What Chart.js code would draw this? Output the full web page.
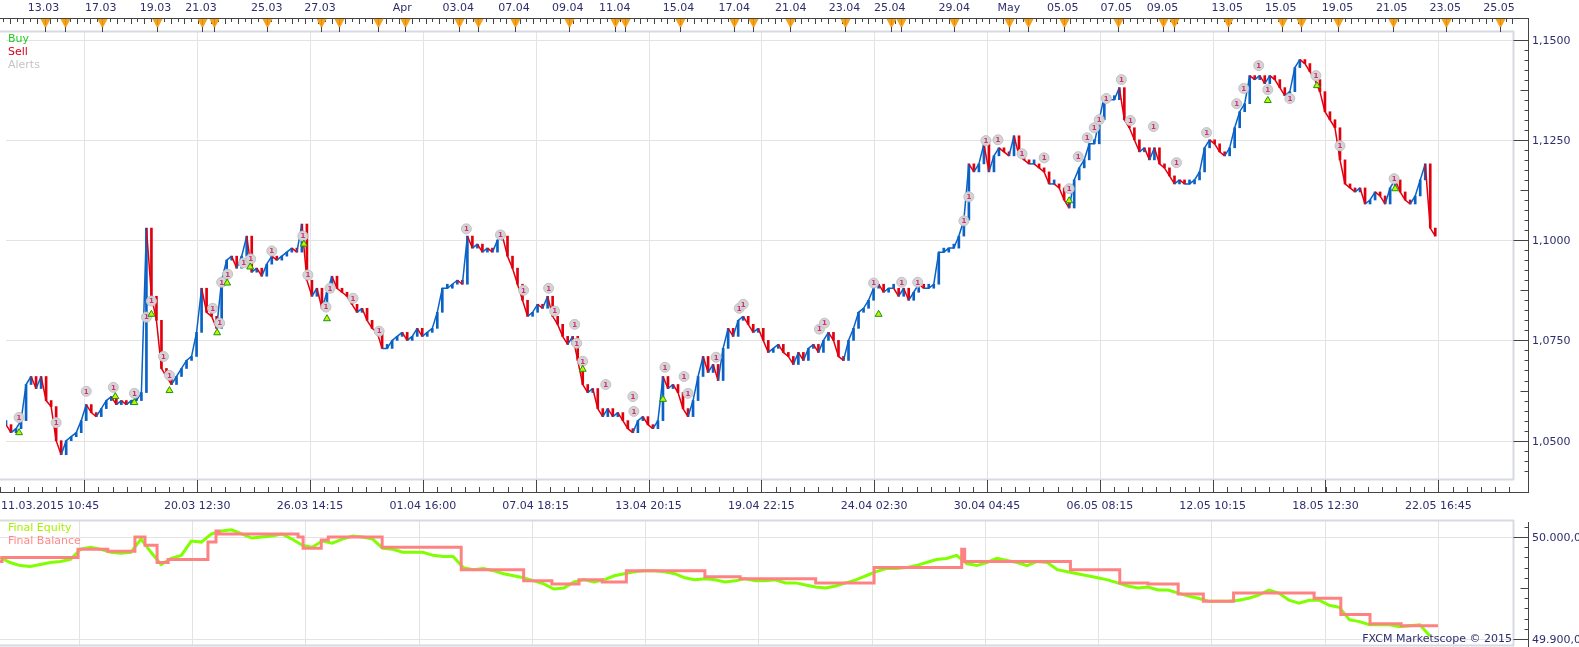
<!DOCTYPE html>
<html><head><meta charset="utf-8">
<script src="https://cdn.jsdelivr.net/npm/chart.js@4.4.1/dist/chart.umd.min.js"></script>
<style>
html,body{margin:0;padding:0;background:#fff;overflow:hidden}
#wrap{position:relative;width:1579px;height:647px;background:#fff}
#c1{position:absolute;left:0;top:0}
#c2{position:absolute;left:0;top:516px}
</style></head><body>
<div id="wrap"><canvas id="c1" width="1579" height="516"></canvas><canvas id="c2" width="1579" height="131"></canvas></div>
<script>
// ---- price closes, one per sample (bar index) ----
const closes = [
1.0540,1.0520,1.0530,1.0550,1.0640,1.0660,1.0630,1.0660,1.0600,1.0585,
1.0500,1.0465,1.0500,1.0510,1.0520,1.0550,1.0590,1.0570,1.0560,1.0580,
1.0600,1.0610,1.0590,1.0600,1.0590,1.0600,1.0600,1.0620,1.1030,1.0860,
1.0800,1.0680,1.0660,1.0640,1.0660,1.0680,1.0700,1.0710,1.0770,1.0880,
1.0820,1.0810,1.0780,1.0900,1.0950,1.0960,1.0930,1.0960,1.1010,1.0920,
1.0930,1.0910,1.0940,1.0960,1.0950,1.0960,1.0970,1.0980,1.0970,1.1040,
1.0900,1.0860,1.0880,1.0830,1.0870,1.0910,1.0880,1.0870,1.0860,1.0840,
1.0820,1.0830,1.0800,1.0780,1.0770,1.0730,1.0730,1.0750,1.0760,1.0770,
1.0750,1.0760,1.0780,1.0760,1.0770,1.0780,1.0820,1.0880,1.0880,1.0890,
1.0900,1.0890,1.1010,1.0980,1.0990,1.0970,1.0980,1.0970,1.1000,1.1010,
1.0960,1.0930,1.0890,1.0850,1.0810,1.0820,1.0840,1.0830,1.0860,1.0810,
1.0790,1.0760,1.0740,1.0760,1.0700,1.0640,1.0620,1.0630,1.0580,1.0560,
1.0580,1.0560,1.0570,1.0550,1.0530,1.0520,1.0550,1.0560,1.0540,1.0530,
1.0550,1.0660,1.0630,1.0640,1.0620,1.0580,1.0560,1.0600,1.0660,1.0710,
1.0670,1.0690,1.0650,1.0730,1.0780,1.0760,1.0800,1.0810,1.0790,1.0770,
1.0780,1.0750,1.0720,1.0730,1.0740,1.0720,1.0710,1.0690,1.0720,1.0700,
1.0730,1.0740,1.0720,1.0750,1.0770,1.0750,1.0710,1.0700,1.0750,1.0780,
1.0820,1.0830,1.0850,1.0880,1.0890,1.0870,1.0880,1.0880,1.0860,1.0880,
1.0850,1.0870,1.0890,1.0880,1.0880,1.0890,1.0970,1.0970,1.0980,1.0980,
1.1010,1.1050,1.1190,1.1170,1.1190,1.1240,1.1170,1.1210,1.1230,1.1220,
1.1210,1.1260,1.1210,1.1200,1.1190,1.1190,1.1180,1.1170,1.1140,1.1140,
1.1130,1.1100,1.1080,1.1150,1.1180,1.1200,1.1240,1.1240,1.1300,1.1360,
1.1350,1.1350,1.1380,1.1300,1.1280,1.1250,1.1220,1.1230,1.1200,1.1230,
1.1190,1.1180,1.1160,1.1140,1.1150,1.1140,1.1140,1.1150,1.1170,1.1230,
1.1250,1.1240,1.1220,1.1210,1.1230,1.1280,1.1320,1.1340,1.1410,1.1400,
1.1410,1.1390,1.1410,1.1400,1.1380,1.1360,1.1370,1.1430,1.1450,1.1440,
1.1420,1.1400,1.1370,1.1320,1.1300,1.1280,1.1200,1.1140,1.1130,1.1120,
1.1130,1.1090,1.1100,1.1120,1.1110,1.1090,1.1130,1.1150,1.1120,1.1100,
1.1090,1.1110,1.1150,1.1190,1.1030,1.1010
];

// ---- alerts (bar index, price) ----
const alertIdx = [2.6,10,16,21.4,25.6,28,29,31.4,32.6,41.2,42.6,43,44.2,47.4,48.8,53,59.2,60.2,63.8,64.6,69.2,74.4,91.8,98.6,103.2,108.2,109.4,113.4,113.8,115,119.6,125,125.2,131.4,135.2,136,141.6,146.2,147,162.2,163.2,173,178.6,181.8,191,192,195.4,197.8,202.6,207,212,213.8,215.6,217,218,219.4,222.4,224.2,228.8,233.4,239.4,245.4,246.8,249.8,251.6,256,261.2,266,276.8];
const alertPrice = [1.0558,1.0545,1.0623,1.0633,1.0618,1.0808,1.0848,1.0710,1.0663,1.0830,1.0793,1.0895,1.0915,1.0943,1.0953,1.0973,1.1010,1.0913,1.0833,1.0880,1.0855,1.0773,1.1028,1.1013,1.0875,1.0880,1.0823,1.0790,1.0743,1.0698,1.0640,1.0610,1.0573,1.0683,1.0660,1.0618,1.0708,1.0830,1.0840,1.0778,1.0793,1.0893,1.0895,1.0895,1.1048,1.1108,1.1248,1.1250,1.1215,1.1205,1.1128,1.1208,1.1255,1.1280,1.1300,1.1353,1.1400,1.1298,1.1283,1.1193,1.1268,1.1340,1.1378,1.1435,1.1375,1.1353,1.1410,1.1235,1.1153];

// ---- buy signals ----
const buyIdx = [2.6,21.8,25.6,29,32.6,42.1,44.1,48.7,59.4,64,115,131,174,212,251.6,261.4,277];
const buyPrice = [1.0520,1.0610,1.0595,1.0815,1.0625,1.0769,1.0893,1.0933,1.0990,1.0804,1.0678,1.0603,1.0815,1.1098,1.1348,1.1385,1.1128];

// ---- top event markers and date labels ----
const eventIdx = [7.7,11.7,19.1,30.2,39.1,41.5,52.0,62.8,66.5,74.1,79.6,90.4,94.1,101.5,112.2,121.5,123.5,134.3,145.2,149.0,156.3,167.2,176.4,178.5,189.1,200.0,203.8,210.9,221.7,230.8,233.0,243.7,254.4,258.2,265.7,276.5,287.2,297.9];
const topLabels = ['13.03','17.03','19.03','21.03','25.03','27.03','Apr','03.04','07.04','09.04','11.04','15.04','17.04','21.04','23.04','25.04','29.04','May','05.05','07.05','09.05','13.05','15.05','19.05','21.05','23.05','25.05'];
const topLabelIdx = [7.5,18.9,29.8,38.9,52.0,62.6,79.0,90.2,101.3,112.0,121.4,134.1,145.2,156.5,167.2,176.2,189.1,200.0,210.7,221.4,230.6,243.5,254.2,265.5,276.3,287.0,297.7];

// ---- bottom time axis ----
const firstTimeLabel = '11.03.2015 10:45';
const timeTickIdx = [15.63,38.13,60.62,83.12,105.62,128.12,150.62,173.12,195.61,218.11,240.61,263.11,285.61];
const timeTickLabels = ['','20.03 12:30','26.03 14:15','01.04 16:00','07.04 18:15','13.04 20:15','19.04 22:15','24.04 02:30','30.04 04:45','06.05 08:15','12.05 10:15','18.05 12:30','22.05 16:45'];

// ---- price axis ----
const priceTicks = [1.05,1.075,1.1,1.125,1.15];
const priceTickLabels = ['1,0500','1,0750','1,1000','1,1250','1,1500'];

// ---- lower panel ----
const equity = [49980,49975,49972,49971,49973,49975,49976,49978,49988,49990,49988,49985,49984,49985,49998,49985,49973,49979,49982,49996,49995,50003,50006,50007,50003,49999,50000,50001,50003,49998,49992,49990,49996,49994,49998,50001,50000,49998,49989,49988,49985,49985,49985,49982,49981,49981,49970,49968,49969,49967,49964,49962,49960,49957,49954,49949,49950,49956,49958,49956,49958,49962,49964,49966,49967,49967,49966,49964,49960,49958,49959,49958,49956,49957,49959,49957,49957,49958,49955,49955,49953,49951,49950,49952,49955,49958,49962,49966,49969,49969,49970,49972,49975,49978,49979,49982,49974,49972,49975,49979,49977,49975,49972,49976,49975,49968,49966,49964,49962,49960,49958,49955,49952,49950,49951,49948,49948,49945,49942,49940,49937,49937,49937,49938,49940,49943,49948,49945,49938,49935,49938,49938,49933,49931,49919,49917,49914,49914,49914,49912,49913,49914,49903];
const equityStep = 2;
const balanceIdx = [0,0.4,15.5,21.4,26.8,28.8,31.2,33.4,41.3,42.9,43.5,59.2,60.2,63.8,65.2,75.9,91.6,104,109.6,115,119.6,124.4,140,147,162,173.6,191,191.6,212.6,222.4,228,234,239,245,261,266.3,272.1,278.3,285.6];
const balanceVal = [49976,49980,49988,49986,50000,49992,49975,49978,49995,50006,50003,50000,49989,49997,50000,49990,49968,49957,49954,49958,49956,49967,49961,49959,49955,49970,49988,49976,49968,49955,49954,49944,49937,49945,49940,49924,49915,49913,49913];
const panelTicks = [49900,50000];
const panelTickLabels = ['49.900,0','50.000,0'];

// ---------------------------------------------------------------
const BLUE='#0a62c6', RED='#e2000e', NAVY='#2e2e6e', GRID='#e3e3e3', FRAME='#d6dae2';
const FONT='11px "DejaVu Sans", Verdana, sans-serif';
const X_MIN=0, X_MAX=300.5;
const AXIS_X=1528.5;

function hline(ctx,x1,x2,y){ctx.beginPath();ctx.moveTo(x1,y);ctx.lineTo(x2,y);ctx.stroke();}
function vline(ctx,x,y1,y2){ctx.beginPath();ctx.moveTo(x,y1);ctx.lineTo(x,y2);ctx.stroke();}

function minorTimeTicks(){
  const step=(timeTickIdx[1]-timeTickIdx[0])/8; const out=[];
  for(let v=timeTickIdx[0]-step*6; v<=X_MAX; v+=step) out.push(v);
  return out;
}

const mainDecor = {
  id:'mainDecor',
  beforeDatasetsDraw(chart){
    const {ctx, chartArea:a, scales:{x,y}} = chart;
    ctx.save();
    ctx.strokeStyle=GRID; ctx.lineWidth=1;
    timeTickIdx.forEach(v=>{const p=Math.round(x.getPixelForValue(v))+0.5; vline(ctx,p,a.top,a.bottom);});
    priceTicks.forEach(v=>{const p=Math.round(y.getPixelForValue(v))+0.5; hline(ctx,a.left,a.right,p);});
    ctx.restore();
  },
  afterDatasetsDraw(chart){
    const {ctx, chartArea:a, scales:{x,y}} = chart;
    ctx.save();
    // alert numbers
    const meta = chart.getDatasetMeta(1);
    ctx.font='bold 7px "DejaVu Sans", sans-serif'; ctx.fillStyle='#d0307a';
    ctx.textAlign='center'; ctx.textBaseline='middle';
    meta.data.forEach(el=>{ ctx.fillText('1', el.x, el.y+0.5); });
    // frame
    ctx.strokeStyle=FRAME; ctx.lineWidth=2;
    hline(ctx,0,a.right+1,a.top-0.5);
    vline(ctx,a.right+0.5,a.top-1,a.bottom+1);
    hline(ctx,0,a.right+1,a.bottom+0.5);
    // legend
    ctx.font=FONT; ctx.textAlign='left'; ctx.textBaseline='middle';
    ctx.fillStyle='#1fcc1f'; ctx.fillText('Buy',8,39);
    ctx.fillStyle='#d8001a'; ctx.fillText('Sell',8,52);
    ctx.fillStyle='#c4c4c4'; ctx.fillText('Alerts',8,65);
    // top strip
    ctx.strokeStyle='#444'; ctx.lineWidth=1;
    hline(ctx,0,AXIS_X,18.5);
    const dayStep=(topLabelIdx[25]-topLabelIdx[24])/8;
    let k=0;
    for(let v=topLabelIdx[24]-dayStep*300; v<=X_MAX+1; v+=dayStep, k++){
      if(v<X_MIN-1) continue;
      const p=Math.round(x.getPixelForValue(v))+0.5;
      if(p>AXIS_X) break;
      vline(ctx,p,18,(k%2===0)?24:22);
    }
    eventIdx.forEach(v=>{
      const p=Math.round(x.getPixelForValue(v))+0.5;
      ctx.fillStyle='#f6a21c';
      ctx.beginPath(); ctx.moveTo(p-5,19); ctx.lineTo(p+5,19); ctx.lineTo(p,28.5); ctx.closePath(); ctx.fill();
      ctx.strokeStyle='#e08a00'; ctx.lineWidth=1; vline(ctx,p,19,25);
      ctx.strokeStyle='#444'; vline(ctx,p,27,32);
    });
    ctx.fillStyle=NAVY; ctx.font=FONT; ctx.textAlign='center'; ctx.textBaseline='middle';
    topLabels.forEach((t,i)=>{ ctx.fillText(t, x.getPixelForValue(topLabelIdx[i]), 8); });
    // right price axis
    ctx.strokeStyle='#444'; ctx.lineWidth=1;
    vline(ctx,AXIS_X,18,493);
    const y0=y.min, y1=y.max;
    for(let j=Math.ceil(y0/0.0025); j*0.0025<=y1; j++){
      const p=Math.round(y.getPixelForValue(j*0.0025))+0.5;
      let len = (j%10===0)?15:((j%5===0)?8:4);
      hline(ctx,AXIS_X-len,AXIS_X,p);
    }
    ctx.fillStyle=NAVY; ctx.textAlign='left';
    priceTicks.forEach((v,i)=>{ ctx.fillText(priceTickLabels[i], 1532, Math.round(y.getPixelForValue(v))+1); });
    // bottom time axis
    hline(ctx,0,AXIS_X,492.5);
    minorTimeTicks().forEach(v=>{const p=Math.round(x.getPixelForValue(v))+0.5; if(p<AXIS_X) vline(ctx,p,487,492);});
    timeTickIdx.forEach(v=>{const p=Math.round(x.getPixelForValue(v))+0.5; vline(ctx,p,480,492);});
    ctx.textAlign='center';
    timeTickIdx.forEach((v,i)=>{ if(timeTickLabels[i]) ctx.fillText(timeTickLabels[i], x.getPixelForValue(v), 506); });
    ctx.textAlign='left'; ctx.fillText(firstTimeLabel, 1, 506);
    ctx.restore();
  }
};

const priceBars = closes.map((c,i)=>({x:i, y:[i?closes[i-1]:c, c]}));
const barColors = closes.map((c,i)=> (i && c<closes[i-1]) ? RED : BLUE);

new Chart(document.getElementById('c1'), {
  type:'bar',
  data:{datasets:[
    {type:'line', data: buyIdx.map((v,i)=>({x:v,y:buyPrice[i]})), showLine:false, pointStyle:'triangle', pointRadius:4, pointBackgroundColor:'#c6f000', pointBorderColor:'#119a11', pointBorderWidth:1, order:0},
    {type:'line', data: alertIdx.map((v,i)=>({x:v,y:alertPrice[i]})), showLine:false, pointRadius:5, pointBackgroundColor:'#d4d4d4', pointBorderColor:'#c2c2c2', pointBorderWidth:1, order:1},
    {type:'line', data: closes.map((c,i)=>({x:i,y:c})), pointRadius:0, borderWidth:1.5, tension:0,
      segment:{borderColor: c => (c.p1.parsed.y < c.p0.parsed.y) ? RED : BLUE}, borderColor:BLUE, order:2},
    {type:'bar', data: priceBars, backgroundColor: barColors, borderWidth:0, barThickness:2, minBarLength:4, order:3}
  ]},
  options:{
    responsive:false, animation:false, events:[],
    layout:{padding:{left:0,right:66,top:32,bottom:37}},
    plugins:{legend:{display:false}, tooltip:{enabled:false}},
    scales:{
      x:{type:'linear', min:X_MIN, max:X_MAX, display:false, offset:false},
      y:{type:'linear', min:1.04045, max:1.15187, display:false}
    }
  },
  plugins:[mainDecor]
});

const panelDecor = {
  id:'panelDecor',
  beforeDatasetsDraw(chart){
    const {ctx, chartArea:a, scales:{x,y}} = chart;
    ctx.save();
    ctx.strokeStyle=GRID; ctx.lineWidth=1;
    timeTickIdx.forEach(v=>{const p=Math.round(x.getPixelForValue(v))+0.5; vline(ctx,p,a.top,a.bottom);});
    panelTicks.forEach(v=>{const p=Math.round(y.getPixelForValue(v))+0.5; hline(ctx,a.left,a.right,p);});
    ctx.restore();
  },
  afterDatasetsDraw(chart){
    const {ctx, chartArea:a, scales:{x,y}} = chart;
    ctx.save();
    ctx.strokeStyle=FRAME; ctx.lineWidth=2;
    hline(ctx,0,a.right+1,a.top-0.5);
    vline(ctx,a.right+0.5,a.top-1,a.bottom+1);
    hline(ctx,0,a.right+1,a.bottom+0.5);
    ctx.font=FONT; ctx.textAlign='left'; ctx.textBaseline='middle';
    ctx.fillStyle='#a8f000'; ctx.fillText('Final Equity',8,12);
    ctx.fillStyle='#ff8a8a'; ctx.fillText('Final Balance',8,25);
    ctx.strokeStyle='#444'; ctx.lineWidth=1;
    vline(ctx,AXIS_X,6,131);
    for(let j=Math.ceil(y.min/10); j*10<=y.max; j++){
      const p=Math.round(y.getPixelForValue(j*10))+0.5;
      let len=(j%10===0)?15:((j%5===0)?8:4);
      hline(ctx,AXIS_X-len,AXIS_X,p);
    }
    ctx.fillStyle=NAVY;
    panelTicks.forEach((v,i)=>{ ctx.fillText(panelTickLabels[i],1532,Math.round(y.getPixelForValue(v))+1); });
    ctx.textAlign='right';
    ctx.fillText('FXCM Marketscope \u00a9 2015', 1512, 123);
    ctx.restore();
  }
};

new Chart(document.getElementById('c2'), {
  type:'line',
  data:{datasets:[
    {data: balanceIdx.map((v,i)=>({x:v,y:balanceVal[i]})), stepped:true, borderColor:'#ff8282', borderWidth:3, pointRadius:0, fill:false},
    {data: equity.map((v,i)=>({x:i*equityStep,y:v})), borderColor:'#80ff00', borderWidth:3, pointRadius:0, fill:false, tension:0}
  ]},
  options:{
    responsive:false, animation:false, events:[],
    layout:{padding:{left:0,right:66,top:5,bottom:2}},
    plugins:{legend:{display:false}, tooltip:{enabled:false}},
    scales:{
      x:{type:'linear', min:X_MIN, max:X_MAX, display:false},
      y:{type:'linear', min:49894.1, max:50015.7, display:false}
    }
  },
  plugins:[panelDecor]
});
</script>
</body></html>
